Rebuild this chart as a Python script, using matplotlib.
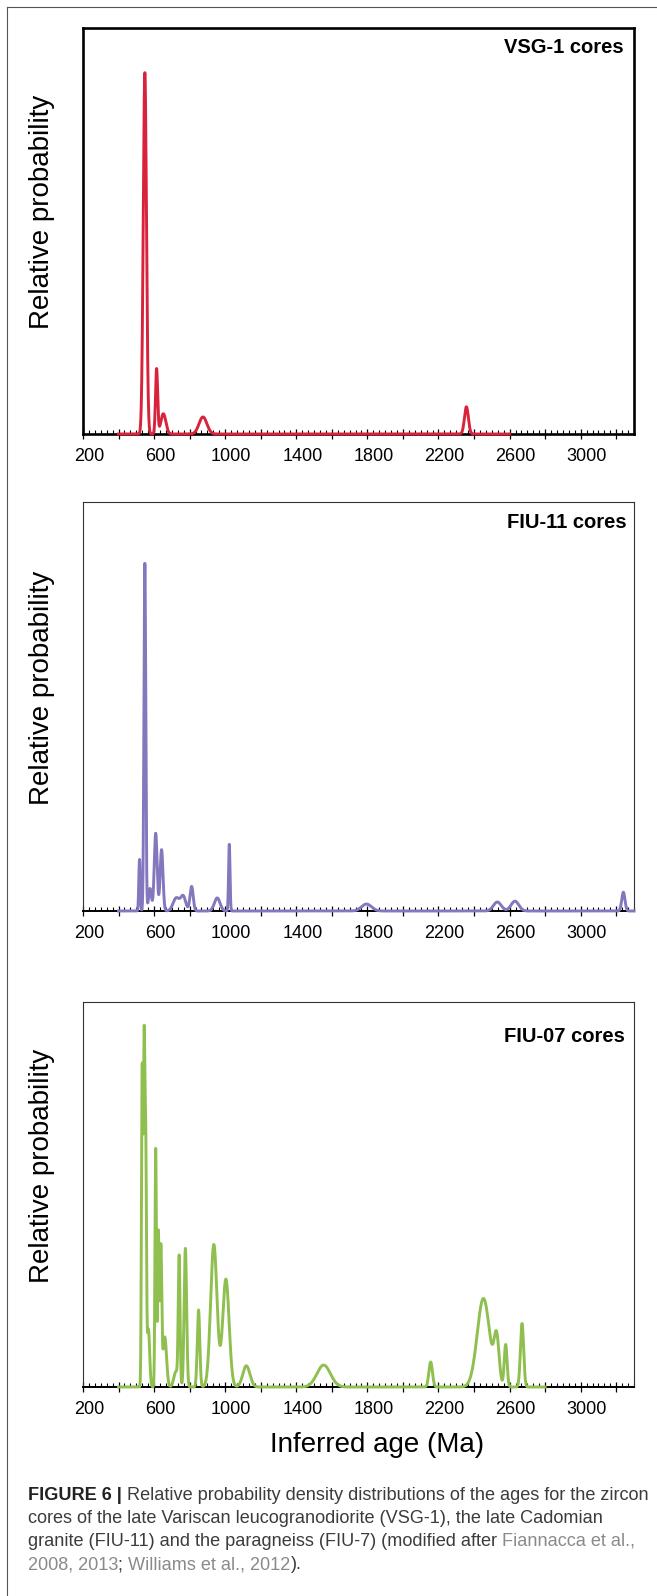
import numpy as np
import matplotlib.pyplot as plt
from matplotlib.ticker import MultipleLocator, FuncFormatter
from matplotlib.transforms import ScaledTranslation

plt.rcParams['font.family'] = ['Liberation Sans', 'DejaVu Sans']

W, H = 657, 1596

# age range covered by each curve (Ma)
vsg_range = (400, 2600)
fiu11_range = (400, 3300)
fiu07_range = (400, 2800)

# peaks: age (Ma), height (fraction of panel), spread (Ma)
vsg_age = [548, 614, 652, 875, 2357]
vsg_height = [0.89, 0.16, 0.05, 0.042, 0.067]
vsg_spread = [9, 6, 14, 22, 11]

fiu11_age = [518, 548, 577, 609, 642, 725, 764, 811, 955, 1023, 1795, 2531, 2630, 3240]
fiu11_height = [0.126, 0.85, 0.055, 0.19, 0.15, 0.032, 0.035, 0.06, 0.032, 0.163, 0.017, 0.022, 0.024, 0.046]
fiu11_spread = [4, 5, 8, 8, 8, 18, 14, 9, 16, 4, 28, 22, 22, 9]

fiu07_age = [533, 544, 553, 568, 609, 624, 638, 660, 723, 741, 776, 850, 936, 1004,
             1119, 1554, 2156, 2453, 2527, 2578, 2670]
fiu07_height = [0.82, 0.87, 0.60, 0.15, 0.62, 0.40, 0.36, 0.13, 0.04, 0.33, 0.36, 0.20, 0.37, 0.28,
                0.055, 0.057, 0.065, 0.23, 0.12, 0.11, 0.165]
fiu07_spread = [4, 4, 4, 7, 4, 4, 5, 10, 12, 5, 7, 7, 18, 18,
                20, 38, 10, 35, 14, 8, 9]

panels = [
    ('VSG-1 cores', vsg_range, vsg_age, vsg_height, vsg_spread, '#d9223c'),
    ('FIU-11 cores', fiu11_range, fiu11_age, fiu11_height, fiu11_spread, '#8577bd'),
    ('FIU-07 cores', fiu07_range, fiu07_age, fiu07_height, fiu07_spread, '#8ebf4f'),
]

# panel boxes in pixels: top, bottom
boxes = [(28, 434), (502, 911), (1002, 1387)]
ax_left, ax_right = 83, 634
ylabel_y = [212, 688, 1166]
title_pos = [(0.982, 0.953), (0.987, 0.951), (0.984, 0.91)]


def density(ages, heights, spreads, x):
    y = np.zeros_like(x)
    for a, h, s in zip(ages, heights, spreads):
        y += h * np.exp(-0.5 * ((x - a) / s) ** 2)
    return y


fig = plt.figure(figsize=(W / 100, H / 100), dpi=100)

for i, (name, rng, ages, heights, spreads, color) in enumerate(panels):
    top, bottom = boxes[i]
    ax = fig.add_axes([ax_left / W, 1 - bottom / H, (ax_right - ax_left) / W, (bottom - top) / H])
    x = np.linspace(rng[0], rng[1], 6000)
    ax.plot(x, density(ages, heights, spreads, x), color=color, lw=2.1, clip_on=False, zorder=4)
    ax.set_xlim(200, 3300)
    ax.set_ylim(0, 1)
    ax.set_yticks([])

    if i == 0:
        for s in ax.spines.values():
            s.set_linewidth(1.9)
            s.set_color('black')
    else:
        for s in ax.spines.values():
            s.set_linewidth(0.8)
            s.set_color('#333333')
        ax.spines['bottom'].set_linewidth(1.4)
        ax.spines['bottom'].set_color('black')

    ax.xaxis.set_major_locator(MultipleLocator(200))
    ax.xaxis.set_minor_locator(MultipleLocator(200 / 6))
    ax.xaxis.set_major_formatter(FuncFormatter(lambda v, p: f'{int(v)}' if int(v - 200) % 400 == 0 else ''))
    ax.tick_params(axis='x', which='major', direction='inout', length=7, width=0.9,
                   labelsize=13, pad=6.5, color='black')
    ax.tick_params(axis='x', which='minor', direction='in', length=3, width=0.8, color='black')
    shift = ScaledTranslation(6 / 100, 0, fig.dpi_scale_trans)
    for lab in ax.get_xticklabels():
        lab.set_transform(lab.get_transform() + shift)

    ax.text(title_pos[i][0], title_pos[i][1], name, transform=ax.transAxes,
            ha='right', va='center', fontsize=14.5, fontweight='bold')
    fig.text(42 / W, 1 - ylabel_y[i] / H, 'Relative probability', rotation=90,
             ha='center', va='center', fontsize=20)

fig.text(377 / W, 1 - 1445 / H, 'Inferred age (Ma)', ha='center', va='center', fontsize=20)

# outer frame (left and top edges)
fig.add_artist(plt.Line2D([7 / W, 7 / W], [0, 1 - 7 / H], color='#555555', lw=0.8))
fig.add_artist(plt.Line2D([7 / W, 1], [1 - 7 / H, 1 - 7 / H], color='#555555', lw=0.8))

# caption
dark = '#3c3c3c'
light = '#8a8a8a'
caption_lines = [
    [('FIGURE 6 |', '#222222', 'bold'),
     (' Relative probability density distributions of the ages for the zircon', dark, 'normal')],
    [('cores of the late Variscan leucogranodiorite (VSG-1), the late Cadomian', dark, 'normal')],
    [('granite (FIU-11) and the paragneiss (FIU-7) (modified after ', dark, 'normal'),
     ('Fiannacca et al.,', light, 'normal')],
    [('2008, 2013', light, 'normal'), ('; ', dark, 'normal'),
     ('Williams et al., 2012', light, 'normal'), (').', dark, 'normal')],
]
caption_base = [1500, 1523, 1546, 1569]
renderer = fig.canvas.get_renderer()
for runs, yb in zip(caption_lines, caption_base):
    xp = 28
    for txt, col, wt in runs:
        t = fig.text(xp / W, 1 - yb / H, txt, color=col, fontweight=wt, fontsize=13.1,
                     ha='left', va='baseline')
        xp += t.get_window_extent(renderer).width

fig.savefig('out.png', dpi=100)
